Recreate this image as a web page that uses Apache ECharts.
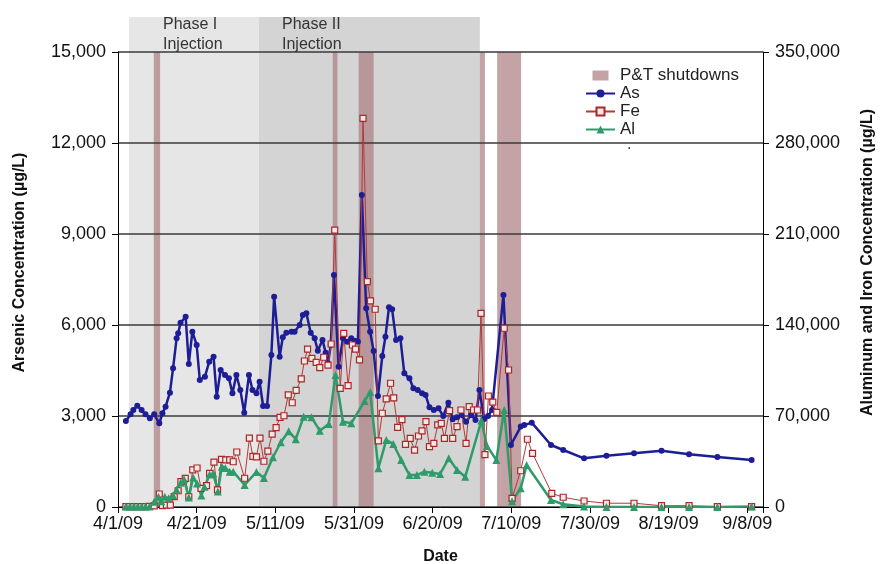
<!DOCTYPE html>
<html>
<head>
<meta charset="utf-8">
<script src="https://cdn.jsdelivr.net/npm/echarts@6/dist/echarts.min.js"></script>
<style>
  html, body { margin: 0; padding: 0; background: #fff; }
  #main { width: 880px; height: 564px; }
</style>
</head>
<body>
<div id="main"></div>
<script>
// x values are days since 4/1/09
const tickLabels = ['4/1/09', '4/21/09', '5/11/09', '5/31/09', '6/20/09', '7/10/09', '7/30/09', '8/19/09', '9/8/09']

// [day, µg/L]
const asPoints = [
  [2, 2835], [3.2, 3056], [3.9, 3198], [4.9, 3340], [6, 3198], [7, 3056], [8.1, 2924], [9.2, 3056],
  [10.5, 2760], [11.3, 3089], [12.1, 3307], [13.2, 3769], [14, 4573], [14.9, 5562], [15.3, 5727],
  [15.9, 6076], [17.2, 6274], [18, 4715], [18.9, 5780], [20, 5341], [20.8, 4187], [22.1, 4296],
  [23.2, 4791], [24.3, 4955], [25.1, 3637], [26.1, 4517], [27.2, 4352], [28.2, 4243], [29.1, 3749],
  [30.1, 4352], [31.1, 3858], [32.1, 3109], [33.3, 4352], [34.2, 3858], [35.2, 3749], [36, 4131],
  [36.9, 3330], [37.9, 3330], [39, 5011], [39.7, 6934], [41.1, 4955], [41.9, 5595], [42.8, 5747],
  [44.1, 5780], [44.9, 5780], [46.2, 6000], [47, 6330], [47.9, 6386], [49, 5747], [50, 5562],
  [50.8, 5153], [52, 5506], [52.8, 5088], [53.4, 4737], [54.1, 5341], [54.9, 7649], [56.1, 4626],
  [57.2, 5562], [58.3, 5450], [59.3, 5562], [60.2, 5483], [61, 5450], [62, 10287], [63.1, 6551],
  [64.1, 5780], [65, 5143], [66.1, 3659], [67.2, 4978], [68, 5615], [68.9, 6584], [69.7, 6518],
  [70.7, 5506], [71.8, 5562], [72.8, 4408], [74.1, 4243], [75.1, 3913], [76.2, 3858], [77.3, 3749],
  [78.2, 3693], [79.2, 3287], [80.3, 3198], [81.5, 3254], [82.7, 3000], [84, 3439], [85.1, 2891],
  [86.2, 2957], [87.4, 3033], [88.5, 2812], [89.8, 3033], [90.9, 2868], [91.9, 3858], [93.1, 2900],
  [94.1, 3000], [95.1, 3198], [98, 6990], [99.9, 2044], [102.4, 2650], [103.3, 2700], [105.2, 2780],
  [110.1, 2044], [113.2, 1879], [118.5, 1605], [124.2, 1691], [131.2, 1770], [138.2, 1856],
  [145.2, 1737], [152.4, 1649], [161.1, 1550]
]

const fePoints = [
  [2, 300], [3, 300], [4, 300], [5, 300], [6, 300], [7, 300], [8, 500], [9.2, 800], [10.5, 10000],
  [11.3, 1000], [12.3, 1500], [13.3, 1500], [14.3, 8000], [15.3, 12500], [16, 19500], [17.1, 22000],
  [18, 7900], [19, 28500], [20.1, 30000], [21.1, 14400], [22.5, 16500], [23.3, 25800], [24.4, 34500],
  [25.3, 13100], [26.3, 36700], [27.4, 36200], [28.4, 36200], [29.3, 34800], [30.2, 42300],
  [32.2, 22100], [33.4, 53000], [34.3, 39000], [35.2, 38500], [36.1, 53000], [37.1, 35200],
  [38.1, 43000], [39.2, 56000], [40.2, 61000], [41.2, 69000], [42.2, 70200], [43.3, 86200],
  [44.3, 80200], [45.3, 89700], [46.6, 98500], [47.4, 112300], [48.2, 121500], [49.3, 114400],
  [50.4, 111300], [51.3, 107200], [52.3, 115200], [53.4, 109200], [54.2, 125400], [55.1, 213000],
  [56.5, 91300], [57.4, 133600], [58.5, 93300], [59.6, 124600], [60.4, 121500], [61.4, 113100],
  [62.3, 299000], [63.4, 173300], [64.2, 158500], [65.4, 152100], [66.2, 50800], [67.2, 72100],
  [68.2, 83100], [69.3, 95200], [70.1, 84000], [71.1, 61300], [72.2, 67200], [73.1, 48200],
  [74.3, 52800], [75.4, 43800], [76.4, 54600], [77.3, 58500], [78.3, 65600], [79.2, 46400],
  [80.3, 49000], [81.3, 63100], [82.2, 64400], [83, 52800], [84.3, 74100], [85.1, 52800],
  [86.2, 61800], [87.2, 74600], [88.5, 49000], [89.3, 77200], [90.4, 74600], [91.4, 74600],
  [92.3, 149000], [93.3, 40300], [94.2, 85400], [95.3, 80600], [96.3, 72800], [98.2, 137500],
  [99.3, 105400], [100.2, 6700], [102.4, 27900], [104.1, 52100], [105.4, 41300], [110.3, 10500],
  [113.2, 7500], [118.5, 4600], [124.2, 2900], [131.2, 2900], [138.2, 1000], [145.2, 1000],
  [152.4, 300], [161.1, 300]
]

const alPoints = [
  [2, 300], [3, 300], [4, 300], [5, 300], [6, 300], [7, 300], [8, 300], [9.2, 4000], [10.3, 7900],
  [11, 4500], [11.9, 7900], [12.9, 6700], [14, 9000], [14.9, 13300], [15.9, 18700], [16.8, 21300],
  [18, 7300], [19.1, 22700], [20.1, 18000], [21.2, 8800], [22, 15600], [23.3, 25000], [24.2, 25900],
  [25.4, 12000], [26.4, 31200], [27.3, 30000], [28.4, 27200], [29.3, 27200], [32.2, 16900],
  [35.2, 27000], [37.1, 22300], [39.4, 38300], [41.4, 49800], [43.4, 58200], [45.2, 52200],
  [47.2, 69500], [49.2, 69000], [51.3, 58700], [53.6, 63800], [55.3, 101500], [57.2, 65600],
  [59.3, 64400], [62.7, 81500], [64.1, 88500], [66.2, 29800], [68.2, 51500], [70, 48500],
  [72, 36200], [74.1, 24600], [76, 24600], [77.9, 27200], [79.9, 26400], [81.9, 25400],
  [84.1, 37500], [86.2, 28500], [88.3, 23300], [92.4, 66500], [93.8, 47000], [96.2, 36200],
  [98.2, 74600], [100.2, 4500], [102.4, 14400], [103.9, 32300], [110.1, 5400], [113.2, 2100],
  [118.5, 300], [124.2, 0], [131.2, 0], [138.2, 0], [145.2, 0], [152.4, 0], [161.1, 300]
]

// shaded periods (days since 4/1/09)
const phaseNames = ['Phase I\nInjection', 'Phase II\nInjection']
const phaseStart = [2.8, 35.8]
const phaseEnd = [35.8, 92]
const shutdownStart = [9.1, 54.6, 61.2, 92, 96.4]
const shutdownEnd = [10.7, 55.8, 65, 93.3, 102.5]

const FONT = '"Liberation Sans", Arial, sans-serif'
const fmt = (v) => v.toLocaleString('en-US')

const chart = echarts.init(document.getElementById('main'))

const option = {
  animation: false,
  backgroundColor: '#fff',
  textStyle: { fontFamily: FONT },
  grid: { left: 118, right: 117, top: 52, bottom: 57, outerBoundsMode: 'none', containLabel: false },
  legend: {
    orient: 'vertical',
    left: 580,
    top: 62,
    itemWidth: 29,
    itemHeight: 10,
    itemGap: 1,
    textStyle: { fontSize: 17, color: '#222', fontFamily: FONT },
    data: [
      { name: 'P&T shutdowns', icon: 'path://M0 0H16V10H0Z' },
      'As', 'Fe', 'Al'
    ]
  },
  xAxis: {
    type: 'value',
    min: 0,
    max: 164,
    interval: 20,
    name: 'Date',
    nameLocation: 'middle',
    nameGap: 42,
    nameTextStyle: { fontSize: 16, fontWeight: 'bold', color: '#111' },
    axisLine: { lineStyle: { color: '#000', width: 1 } },
    axisTick: { length: 6, lineStyle: { color: '#000' } },
    axisLabel: {
      fontSize: 18,
      color: '#111',
      margin: 8,
      formatter: (v) => (v % 20 === 0 ? tickLabels[v / 20] : '')
    },
    splitLine: { show: false }
  },
  yAxis: [
    {
      type: 'value',
      min: 0,
      max: 15000,
      interval: 3000,
      name: 'Arsenic Concentration (µg/L)',
      nameLocation: 'middle',
      nameGap: 90,
      // 标题略高于绘图区中心
      nameTextStyle: { fontSize: 16, fontWeight: 'bold', color: '#111', padding: [0, 0, 0, 34] },
      axisLine: { show: true, lineStyle: { color: '#000', width: 1 } },
      axisTick: { show: true, length: 6, lineStyle: { color: '#000' } },
      axisLabel: { fontSize: 18, color: '#111', margin: 12, formatter: fmt },
      splitLine: { show: true, lineStyle: { color: '#3a3a3a', width: 1.5 } }
    },
    {
      type: 'value',
      position: 'right',
      min: 0,
      max: 350000,
      interval: 70000,
      name: 'Aluminum and Iron Concentration (µg/L)',
      nameLocation: 'middle',
      nameGap: 97,
      nameTextStyle: { fontSize: 16, fontWeight: 'bold', color: '#111', padding: [0, 0, 0, 34] },
      axisLine: { show: true, lineStyle: { color: '#000', width: 1 } },
      axisTick: { show: true, length: 6, lineStyle: { color: '#000' } },
      axisLabel: { fontSize: 18, color: '#111', margin: 12, formatter: fmt },
      splitLine: { show: false }
    }
  ],
  series: [
    {
      name: 'P&T shutdowns',
      type: 'line',
      data: [],
      itemStyle: { color: '#c4a3a6' }
    },
    {
      name: 'As',
      type: 'line',
      yAxisIndex: 0,
      data: asPoints,
      symbol: 'circle',
      symbolSize: 6,
      color: '#1d1d96',
      lineStyle: { width: 2.5, color: '#1d1d96' },
      itemStyle: { color: '#1d1d96' }
    },
    {
      name: 'Fe',
      type: 'line',
      yAxisIndex: 1,
      data: fePoints,
      symbol: 'rect',
      symbolSize: 6,
      color: '#b03030',
      lineStyle: { width: 1, color: '#b03a3a' },
      itemStyle: { color: '#f6e8e8', borderColor: '#a82828', borderWidth: 1.2 }
    },
    {
      name: 'Al',
      type: 'line',
      yAxisIndex: 1,
      data: alPoints,
      symbol: 'triangle',
      symbolSize: 8,
      color: '#2f9a6a',
      lineStyle: { width: 2.5, color: '#2f9a6a' },
      itemStyle: { color: '#2f9a6a' }
    }
  ]
}

chart.setOption(option)

// 背景阴影：注入阶段和停机时段，用坐标轴换算成像素
const xPx = (d) => chart.convertToPixel({ xAxisIndex: 0 }, d)
const yPx = (v) => chart.convertToPixel({ yAxisIndex: 0 }, v)
const plotTop = yPx(15000)
const plotBottom = yPx(0)
const phaseTop = 17
const phaseFills = ['#e6e6e6', '#d4d4d4']

const elements = []
phaseStart.forEach((s, i) => {
  const x0 = xPx(s)
  const x1 = xPx(phaseEnd[i])
  elements.push({
    type: 'rect',
    z: -2,
    silent: true,
    shape: { x: x0, y: phaseTop, width: x1 - x0, height: plotBottom - phaseTop },
    style: { fill: phaseFills[i] }
  })
})
shutdownStart.forEach((s, i) => {
  const x0 = xPx(s)
  const x1 = xPx(shutdownEnd[i])
  elements.push({
    type: 'rect',
    z: -1,
    silent: true,
    shape: { x: x0, y: plotTop, width: x1 - x0, height: plotBottom - plotTop },
    style: { fill: 'rgba(173,127,131,0.72)' }
  })
})
const phaseLabelX = [163, 282]
phaseNames.forEach((t, i) => {
  elements.push({
    type: 'text',
    z: 5,
    silent: true,
    left: phaseLabelX[i],
    top: 15,
    style: { text: t, font: '16px ' + FONT, fill: '#333', lineHeight: 20 }
  })
})
// stray dot under legend in the original
elements.push({
  type: 'text',
  silent: true,
  left: 627,
  top: 137,
  style: { text: '.', font: '16px ' + FONT, fill: '#333' }
})

chart.setOption({ graphic: { elements } })

window.addEventListener('resize', () => {
  chart.resize()
})
</script>
</body>
</html>
